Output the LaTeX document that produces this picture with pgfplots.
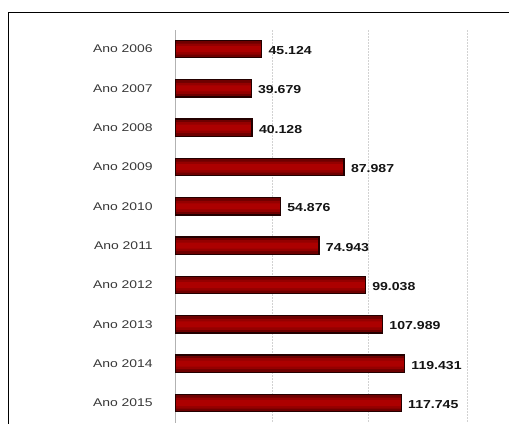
\documentclass[border=0pt]{standalone}
\usepackage{pgfplots}
\pgfplotsset{compat=1.18}
\usepackage{fontspec}
\setmainfont{Liberation Sans}
\definecolor{bardark}{RGB}{110,0,0}
\definecolor{barmid}{RGB}{148,0,0}
\definecolor{barlight}{RGB}{172,0,0}
\definecolor{barline}{RGB}{35,0,0}
\definecolor{labelgray}{RGB}{55,55,55}
\definecolor{valtext}{RGB}{20,20,20}
\pgfplotstableread{
x y
45.124 0
39.679 1
40.128 2
87.987 3
54.876 4
74.943 5
99.038 6
107.989 7
119.431 8
117.745 9
}\datatable
\begin{document}
\begin{tikzpicture}[x=1bp,y=1bp]
\useasboundingbox (0,0) rectangle (509,423);
\draw[line width=1.5bp] (8.5,-1) -- (8.5,410.5) -- (510,410.5);
\begin{axis}[
  at={(175bp,0bp)}, anchor=south west,
  scale only axis, width=298bp, height=393bp,
  xbar,
  xmin=0, xmax=155,
  ymin=-0.483, ymax=9.508, y dir=reverse,
  ytick={0,...,9},
  yticklabels={Ano 2006,Ano 2007,Ano 2008,Ano 2009,Ano 2010,Ano 2011,Ano 2012,Ano 2013,Ano 2014,Ano 2015},
  yticklabel style={font=\fontsize{11.2}{13}\selectfont, text=labelgray, inner sep=0pt, anchor=east, xshift=-22bp, xscale=1.25},
  xtick={50.5,100.5,152}, xticklabels={},
  xmajorgrids, grid style={gray!35, line width=0.6bp, dash pattern=on 1.5bp off 1.5bp},
  extra x ticks={0}, extra x tick labels={},
  extra x tick style={grid style={gray!60, solid, line width=0.8bp}},
  axis line style={draw=none},
  major tick length=0pt,
]
\addplot[xbar, bar shift=0pt, bar width=17.5bp, draw=none, fill=bardark] table[x=x,y=y] {\datatable};
\addplot[xbar, bar shift=0pt, bar width=11bp, draw=none, fill=barmid] table[x=x,y=y] {\datatable};
\addplot[xbar, bar shift=0pt, bar width=6bp, draw=none, fill=barlight] table[x=x,y=y] {\datatable};
\addplot[xbar, bar shift=0pt, bar width=17.5bp, draw=barline, line width=1.4bp, fill=none,
  nodes near coords, nodes near coords align={horizontal}, point meta=x,
  every node near coord/.append style={font=\bfseries\fontsize{11.6}{13}\selectfont, text=valtext, anchor=west, inner sep=0pt, xshift=6bp, yshift=-1.5bp, xscale=1.22,
    /pgf/number format/.cd, fixed, fixed zerofill, precision=3, assume math mode=true}]
  table[x=x,y=y] {\datatable};
\end{axis}
\end{tikzpicture}
\end{document}
